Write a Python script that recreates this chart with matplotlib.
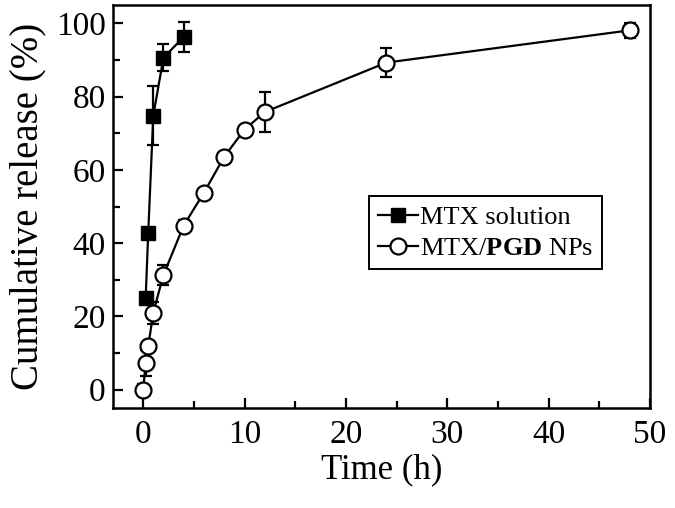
import matplotlib.pyplot as plt
from matplotlib.lines import Line2D
import numpy as np

plt.rcParams['font.family'] = ['Liberation Serif', 'DejaVu Serif']
plt.rcParams['mathtext.fontset'] = 'custom'
plt.rcParams['mathtext.rm'] = 'Liberation Serif'
plt.rcParams['mathtext.bf'] = 'Liberation Serif:bold'

# MTX solution
sol_t = [0.25, 0.5, 1, 2, 4]
sol_y = [25, 42.7, 74.8, 90.6, 96.3]
sol_err = [1, 1, 8, 3.7, 4.1]

# MTX/PGD NPs
np_t = [0, 0.25, 0.5, 1, 2, 4, 6, 8, 10, 12, 24, 48]
np_y = [0, 7.2, 11.8, 21, 31.3, 44.8, 53.8, 63.6, 71, 75.8, 89.3, 98.1]
np_err = [1.5, 3.5, 1, 3, 2.7, 1.5, 1, 1, 1, 5.4, 4, 2]

fig = plt.figure(figsize=(6.75, 5.08), dpi=100)
ax = fig.add_axes([0.167, 0.197, 0.796, 0.793])

ax.errorbar(sol_t, sol_y, yerr=sol_err, color='black', marker='s', ms=10,
            mfc='black', mec='black', lw=1.6, elinewidth=1.6, capsize=4,
            capthick=1.6, zorder=3)
ax.errorbar(np_t, np_y, yerr=np_err, color='black', marker='o', ms=11.5,
            mfc='white', mec='black', mew=1.6, lw=1.6, elinewidth=1.6,
            capsize=4, capthick=1.6, zorder=3)

ax.set_xlim(-3, 50)
ax.set_ylim(-5, 105)
ax.set_xticks([0, 10, 20, 30, 40, 50])
ax.set_xticks(np.arange(0, 50, 5), minor=True)
ax.set_yticks([0, 20, 40, 60, 80, 100])
ax.set_yticks(np.arange(0, 101, 10), minor=True)
ax.tick_params(which='both', direction='in', width=1.6, labelsize=24,
               top=False, right=False)
ax.tick_params(which='major', length=7)
ax.tick_params(which='minor', length=5)
ax.tick_params(axis='x', which='both', pad=8)
ax.tick_params(axis='y', which='both', pad=5)
for s in ax.spines.values():
    s.set_linewidth(1.8)

ax.set_xlabel('Time (h)', fontsize=25, labelpad=3)
ax.set_ylabel('Cumulative release (%)', fontsize=28, labelpad=7)

handles = [
    Line2D([], [], color='black', lw=1.6, marker='s', ms=10, mfc='black'),
    Line2D([], [], color='black', lw=1.6, marker='o', ms=11.5, mfc='white',
           mew=1.6),
]
labels = ['MTX solution', r'MTX/$\mathbf{PGD}$ NPs']
leg = ax.legend(handles, labels, loc='upper left', bbox_to_anchor=(0.477, 0.526),
                fontsize=19, handlelength=1.5, handletextpad=0.08,
                borderpad=0.35, borderaxespad=0, labelspacing=0.3,
                fancybox=False, edgecolor='black', framealpha=1)
leg.get_frame().set_linewidth(1.4)

fig.savefig('out.png', dpi=100)
